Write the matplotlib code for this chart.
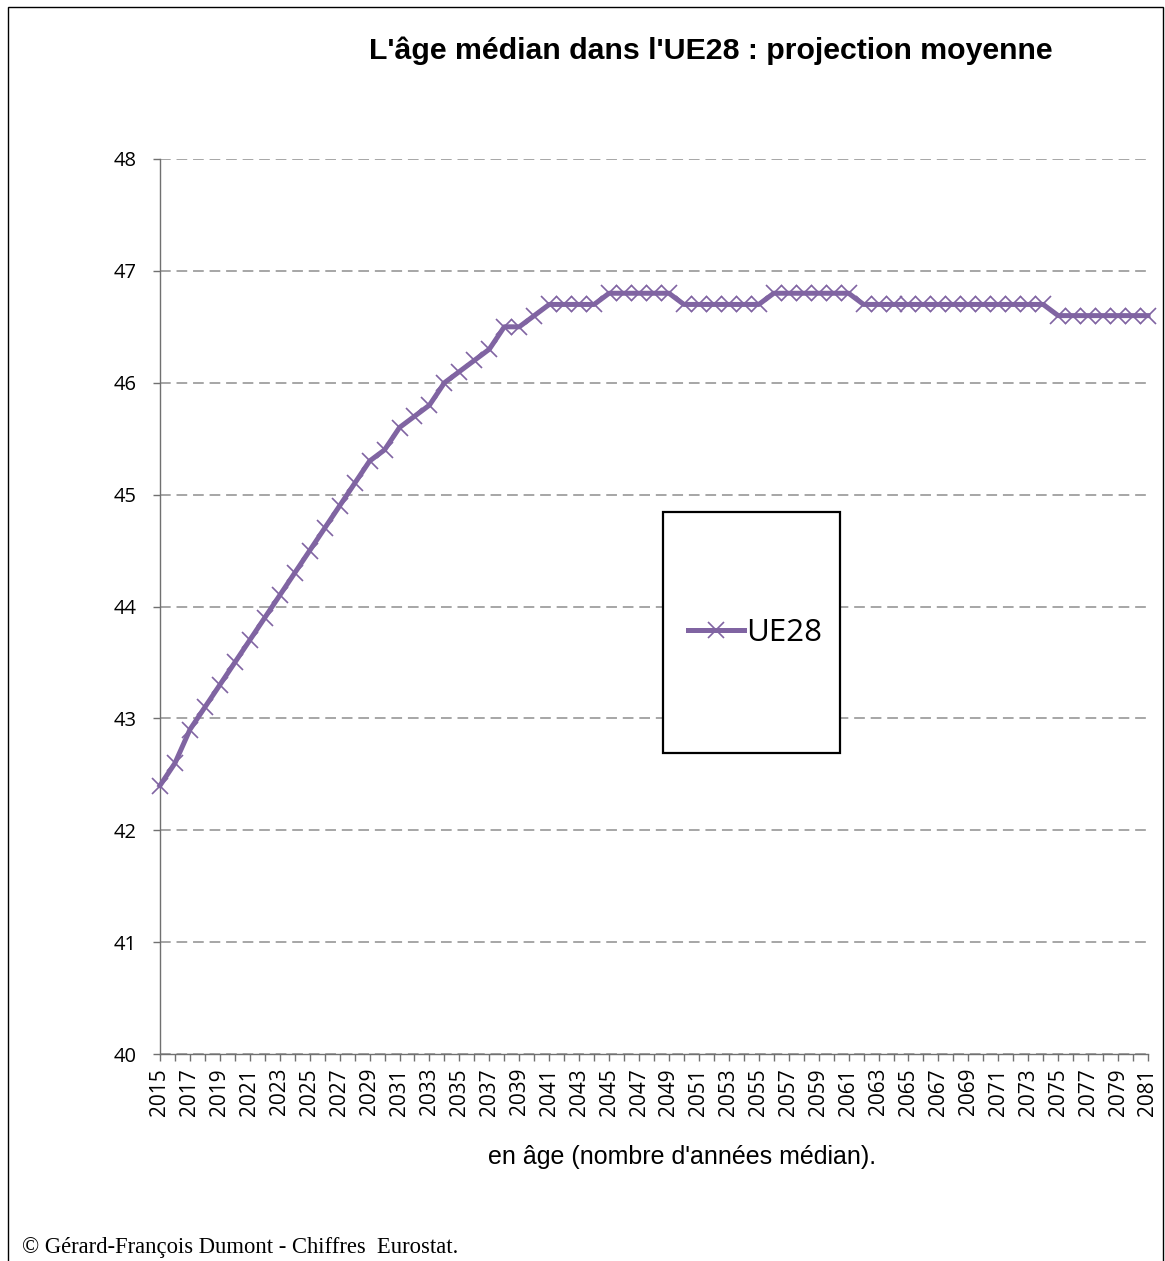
import matplotlib
matplotlib.use("Agg")
import matplotlib.pyplot as plt
from matplotlib.patches import Rectangle
from matplotlib.lines import Line2D

years = list(range(2015, 2082))
median_age = [42.4, 42.6, 42.9, 43.1, 43.3, 43.5, 43.7, 43.9, 44.1, 44.3,
              44.5, 44.7, 44.9, 45.1, 45.3, 45.4, 45.6, 45.7, 45.8, 46.0,
              46.1, 46.2, 46.3, 46.5, 46.5, 46.6,
              46.7, 46.7, 46.7, 46.7,
              46.8, 46.8, 46.8, 46.8, 46.8,
              46.7, 46.7, 46.7, 46.7, 46.7, 46.7,
              46.8, 46.8, 46.8, 46.8, 46.8, 46.8,
              46.7, 46.7, 46.7, 46.7, 46.7, 46.7, 46.7, 46.7, 46.7, 46.7, 46.7, 46.7, 46.7,
              46.6, 46.6, 46.6, 46.6, 46.6, 46.6, 46.6]
series_name = "UE28"
y_ticks = [40, 41, 42, 43, 44, 45, 46, 47, 48]
x_labels = [str(y) if (y - 2015) % 2 == 0 else "" for y in years]

title = "L'âge médian dans l'UE28 : projection moyenne"
xlabel = "en âge (nombre d'années médian)."
credit = "© Gérard-François Dumont - Chiffres  Eurostat."

purple = "#8064A2"

fig = plt.figure(figsize=(11.65, 12.61), dpi=100)
W, H = 1165, 1261

# outer frame
fig.patches.append(Rectangle((8 / W, -0.01), (1163 - 8) / W, (1261 - 7) / H + 0.01,
                             transform=fig.transFigure, fill=False,
                             edgecolor="black", linewidth=1.0))

ax = fig.add_axes([160 / W, 1 - 1054 / H, (1148 - 160) / W, (1054 - 159) / H])
ax.plot(years, median_age, color=purple, linewidth=3.6, marker="x",
        markersize=12, markeredgewidth=1.2, markeredgecolor=purple,
        solid_joinstyle="round", clip_on=False, zorder=3)

ax.set_xlim(2015, 2081)
ax.set_ylim(40, 48)
ax.set_yticks(y_ticks)
ax.set_xticks(years)
ax.set_xticklabels(x_labels, rotation=90, fontsize=15, family="Open Sans")
for lbl in ax.get_yticklabels():
    lbl.set_fontfamily("Open Sans")
    lbl.set_fontsize(14.5)

ax.grid(axis="y", linestyle=(0, (5.5, 3)), color="#A6A6A6", linewidth=1.4)
ax.set_axisbelow(True)
for s in ["top", "right"]:
    ax.spines[s].set_visible(False)
for s in ["left", "bottom"]:
    ax.spines[s].set_color("#707070")
    ax.spines[s].set_linewidth(1.0)
ax.tick_params(axis="both", direction="out", length=5, width=1.0, color="#707070",
               labelcolor="black")
ax.tick_params(axis="x", pad=5)
ax.tick_params(axis="y", pad=12)

# legend box
fig.patches.append(Rectangle((663 / W, 1 - 753 / H), (840 - 663) / W, (753 - 512) / H,
                             transform=fig.transFigure, fill=True, facecolor="white",
                             edgecolor="black", linewidth=1.6, zorder=5))
handle = Line2D([], [], color=purple, linewidth=3.6, marker="x", markersize=12,
                markeredgewidth=1.2)
leg = fig.legend([handle], [series_name], loc="center",
                 bbox_to_anchor=(755 / W, 1 - 633 / H), frameon=False,
                 prop={"family": "Open Sans", "size": 22.5}, handlelength=1.8,
                 handletextpad=0.05)
leg.set_zorder(6)

fig.text(710.5 / W, 1 - 51 / H, title, ha="center", va="center",
         fontsize=21.8, fontweight="bold", family="Liberation Sans")
fig.text(682 / W, 1 - 1157 / H, xlabel, ha="center", va="center",
         fontsize=18, family="Liberation Sans")
fig.text(22 / W, 1 - 1248 / H, credit, ha="left", va="center",
         fontsize=16.3, family="Liberation Serif")

fig.savefig("out.png", dpi=100)
